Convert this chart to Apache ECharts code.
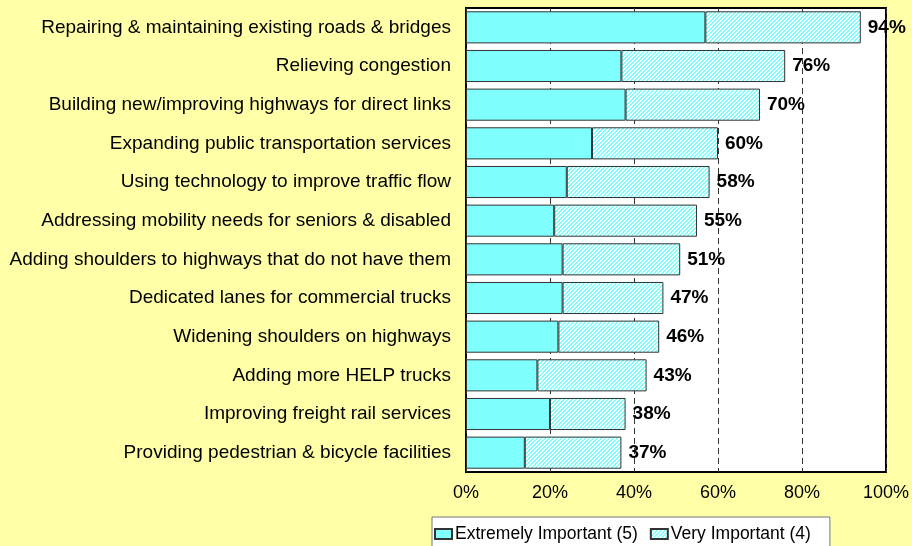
<!DOCTYPE html>
<html>
<head>
<meta charset="utf-8">
<script src="https://cdn.jsdelivr.net/npm/echarts@6/dist/echarts.min.js"></script>
<style>
html,body{margin:0;padding:0;background:#FFFFA8;}
#chart{width:912px;height:546px;}
</style>
</head>
<body>
<div id="chart"></div>
<script>
const categories = [
  "Repairing & maintaining existing roads & bridges",
  "Relieving congestion",
  "Building new/improving highways for direct links",
  "Expanding public transportation services",
  "Using technology to improve traffic flow",
  "Addressing mobility needs for seniors & disabled",
  "Adding shoulders to highways that do not have them",
  "Dedicated lanes for commercial trucks",
  "Widening shoulders on highways",
  "Adding more HELP trucks",
  "Improving freight rail services",
  "Providing pedestrian & bicycle facilities"
];
const extremelyImportant = [57, 37, 38, 30, 24, 21, 23, 23, 22, 17, 20, 14];
const veryImportant      = [37, 39, 32, 30, 34, 34, 28, 24, 24, 26, 18, 23];
const totalLabels        = [94, 76, 70, 60, 58, 55, 51, 47, 46, 43, 38, 37];
const xTicks = [0, 20, 40, 60, 80, 100];

// hatch pattern: cyan diagonal "/" lines on white
const tile = document.createElement('canvas');
tile.width = 4; tile.height = 4;
const tc = tile.getContext('2d');
tc.fillStyle = '#ffffff';
tc.fillRect(0, 0, 4, 4);
tc.fillStyle = '#80ffff';
for (let x = 0; x < 4; x++) {
  for (let y = 0; y < 4; y++) {
    const k = (x + y) % 4;
    if (k === 2 || k === 3) tc.fillRect(x, y, 1, 1);
  }
}
const hatch = { image: tile, repeat: 'repeat' };

const chart = echarts.init(document.getElementById('chart'));
chart.setOption({
  backgroundColor: '#FFFFA8',
  animation: false,
  textStyle: { fontFamily: 'Liberation Sans, Arial, sans-serif' },
  grid: {
    left: 466, right: 25, top: 8, bottom: 74,
    show: true, backgroundColor: '#ffffff', borderColor: '#000', borderWidth: 2
  },
  legend: {
    left: 432, top: 517,
    backgroundColor: '#ffffff', borderColor: '#777', borderWidth: 1,
    padding: [8, 19, 8, 2],
    itemWidth: 17, itemHeight: 10, itemGap: 12,
    textStyle: { fontSize: 17.5, color: '#000', padding: [0, 0, 0, -2] },
    data: [
      { name: 'Extremely Important (5)', icon: 'rect' },
      { name: 'Very Important (4)', icon: 'rect' }
    ]
  },
  xAxis: {
    type: 'value', min: 0, max: 100, interval: 20,
    axisLine: { show: false }, axisTick: { show: false },
    axisLabel: {
      fontSize: 18, color: '#000', margin: 12,
      formatter: v => xTicks.includes(v) ? v + '%' : ''
    },
    splitLine: { show: true, lineStyle: { color: '#333', type: [6, 4], width: 1 } }
  },
  yAxis: {
    type: 'category', inverse: true, data: categories,
    axisLine: { show: false }, axisTick: { show: false },
    axisLabel: { fontSize: 19, color: '#000', margin: 15 }
  },
  series: [
    {
      name: 'Extremely Important (5)', type: 'bar', stack: 'total',
      data: extremelyImportant, barCategoryGap: '17%',
      itemStyle: { color: '#80FFFF', borderColor: '#333', borderWidth: 1 }
    },
    {
      name: 'Very Important (4)', type: 'bar', stack: 'total',
      data: veryImportant, barCategoryGap: '17%',
      itemStyle: { color: hatch, borderColor: '#333', borderWidth: 1 },
      label: {
        show: true, position: 'right', distance: 7,
        fontSize: 19, fontWeight: 'bold', color: '#000',
        formatter: p => totalLabels[p.dataIndex] + '%'
      }
    }
  ]
});
</script>
</body>
</html>
